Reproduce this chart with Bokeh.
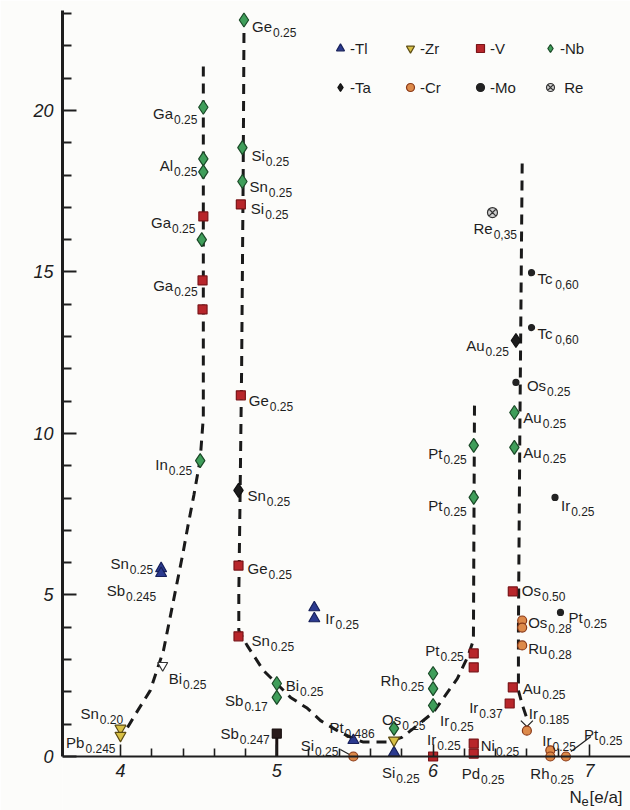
import math
from bokeh.plotting import figure
from bokeh.models import ColumnDataSource, FixedTicker, Legend, LegendItem, Label, Range1d
from bokeh.core.properties import value
from bokeh.embed import file_html
from bokeh.resources import INLINE

# ---------------------------------------------------------------------------
# Axis ticks
x_ticks = [4, 5, 6, 7]
x_minor = [4.2, 4.4, 4.6, 4.8, 5.2, 5.4, 5.6, 5.8, 6.2, 6.4, 6.6, 6.8]
y_ticks = [0, 5, 10, 15, 20]
y_minor = [1, 2, 3, 4, 6, 7, 8, 9, 11, 12, 13, 14, 16, 17, 18, 19, 21, 22, 23]

# Dashed guide curves Tc(Ne)
left_branch_x = [4.045, 4.11, 4.19, 4.275, 4.352, 4.40, 4.43, 4.47, 4.51, 4.53, 4.53]
left_branch_tc = [0.9, 1.42, 2.04, 3.28, 5.14, 6.3, 7.1, 8.1, 9.2, 10.5, 21.55]
mid_branch_x = [4.79, 4.785, 4.775, 4.765, 4.757, 4.757, 4.81, 4.915, 5.088, 5.196, 5.28,
                5.408, 5.49, 5.55, 5.71, 5.80, 5.875, 6.0, 6.155, 6.22, 6.258, 6.265]
mid_branch_tc = [22.4, 18.0, 12.0, 8.0, 5.0, 3.9, 3.44, 2.66, 1.83, 1.49, 1.11,
                 0.74, 0.56, 0.45, 0.45, 0.59, 0.87, 1.36, 2.41, 3.07, 3.6, 11.0]
right_branch_x = [6.57, 6.555, 6.546, 6.546, 6.572, 6.60]
right_branch_tc = [18.36, 10.0, 4.0, 2.04, 1.58, 1.18]

# A15 compounds, grouped by the transition metal (Ne in e/a, Tc in K)
tl_x = [4.26, 4.26, 5.24, 5.24, 5.49, 5.75]
tl_tc = [5.82, 5.67, 4.61, 4.27, 0.50, 0.12]
tl_el = ["Sn", "Sb", "Ir", "", "Pt", "Si"]
tl_sub = ["0.25", "0.245", "0.25", "", "0.486", "0.25"]

zr_x = [4.00, 4.00, 5.75]
zr_tc = [0.87, 0.65, 0.50]
zr_el = ["Sn", "Pb", ""]
zr_sub = ["0.20", "0.245", ""]

v_x = [4.77, 4.53, 4.525, 4.525, 4.77, 4.755, 4.755, 6.00, 6.26, 6.26, 6.26, 6.26, 6.51, 6.51, 6.49]
v_tc = [17.09, 16.72, 14.74, 13.84, 11.18, 5.91, 3.72, 0.0, 3.19, 2.76, 0.40, 0.09, 5.11, 2.14, 1.64]
v_el = ["Si", "Ga", "Ga", "", "Ge", "Ge", "Sn", "Ir", "Pt", "", "Ni", "Pd", "Os", "Au", "Ir"]
v_sub = ["0.25", "0.25", "0.25", "", "0.25", "0.25", "0.25", "0.25", "0.25", "", "0.25", "0.25",
         "0.50", "0.25", "0.37"]

nb_x = [4.79, 4.78, 4.78, 4.53, 4.53, 4.53, 4.52, 4.51, 5.00, 5.00, 5.75, 6.00, 6.00, 6.00,
        6.26, 6.26, 6.52, 6.52]
nb_tc = [22.8, 18.85, 17.8, 20.1, 18.5, 18.1, 16.0, 9.16, 2.26, 1.83, 0.87, 2.57, 2.1, 1.58,
         9.63, 8.02, 10.65, 9.57]
nb_el = ["Ge", "Si", "Sn", "Ga", "Al", "", "", "In", "Bi", "Sb", "Os", "Rh", "", "Ir",
         "Pt", "Pt", "Au", "Au"]
nb_sub = ["0.25", "0.25", "0.25", "0.25", "0.25", "", "", "0.25", "0.25", "0.17", "0.25", "0.25",
          "", "0.25", "0.25", "0.25", "0.25", "0.25"]

ta_x = [4.755, 6.53]
ta_tc = [8.24, 12.88]
ta_el = ["Sn", "Au"]
ta_sub = ["0.25", "0.25"]

cr_x = [5.49, 6.57, 6.57, 6.57, 6.60, 6.75, 6.75, 6.85]
cr_tc = [0.0, 4.21, 3.99, 3.44, 0.80, 0.19, 0.0, 0.0]
cr_el = ["Si", "Os", "", "Ru", "Ir", "Ir", "Rh", "Pt"]
cr_sub = ["0.25", "0.28", "", "0.28", "0.185", "0.25", "0.25", "0.25"]

mo_x = [6.63, 6.63, 6.53, 6.78, 6.815]
mo_tc = [14.98, 13.28, 11.58, 8.02, 4.46]
mo_el = ["Tc", "Tc", "Os", "Ir", "Pt"]
mo_sub = ["0,60", "0,60", "0.25", "0.25", "0.25"]

re_x = [6.38]
re_tc = [16.84]
re_el = ["Re"]
re_sub = ["0,35"]

# hollow symbol and the Ta point drawn as a bar
open_x = [4.27]
open_tc = [2.82]
open_el = ["Bi"]
open_sub = ["0.25"]

bar_x = [5.00]
bar_tc = [0.71]
bar_el = ["Sb"]
bar_sub = ["0.247"]

# Label placement per point: side ("r": text starts at dx, "l": text ends at dx), dx, dy in px
tl_place = [("l", -8, -5), ("l", -5, 17), ("r", 11, 11), None, ("r", -24, -13), ("r", -12, 20)]
zr_place = [("r", -40, -15), ("l", -5, 7), None]
v_place = [("r", 10, 4), ("l", -8, 6), ("l", -5, 5), None, ("r", 8, 5), ("r", 9, 3), ("r", 13, 4),
           ("r", -6, -17), ("l", -10, -3), None, ("r", 7, 2), ("r", -12, 20), ("r", 9, -1),
           ("r", 10, 1), ("l", -7, 4)]
nb_place = [("r", 8, 6), ("r", 9, 8), ("r", 7, 5), ("l", -6, 6), ("l", -6, 7), None, None,
            ("l", -8, 4), ("r", 9, 2), ("l", -9, 3), ("r", -12, -9), ("l", -9, 7), None,
            ("r", 7, 15), ("l", -7, 8), ("l", -7, 8), ("r", 9, 5), ("r", 9, 5)]
ta_place = [("r", 9, 5), ("l", -7, 5)]
cr_place = [("l", -15, -11), ("r", 6, 2), None, ("r", 6, 3), ("r", 2, -17), ("r", -8, -10),
            ("r", -20, 17), ("r", 18, -22)]
mo_place = [("r", 6, 6), ("r", 6, 6), ("r", 11, 3), ("r", 6, 8), ("r", 8, 5)]
re_place = [("r", -19, 16)]
open_place = [("r", 6, 13)]
bar_place = [("l", -7, 0)]

# leader lines: (x, tc, dx0, dy0, dx1, dy1) in px relative to the point
leaders = [(5.49, 0.0, -13, -7, -4, -2), (6.85, 0.0, 5, -5, 25, -20),
           (6.60, 0.80, -6, -10, 0, -4), (6.60, 0.80, 6, -10, 0, -4)]

# ---------------------------------------------------------------------------
FONT = "Liberation Sans"
INK = "#1e1e1e"
BG = "#fcfcfa"
MAIN_PX, SUB_PX, SUB_DROP = 15, 12, 6

X0, X1 = 3.629, 7.263
Y0, Y1 = -1.672, 23.25
FL, FR, FT, FB = 62, 630, 5, 810
KX = (FR - FL) / (X1 - X0)
KY = (FB - FT) / (Y1 - Y0)


def sx(px):
    return X0 + (px - FL) / KX


def sy(py):
    return Y1 - (py - FT) / KY


ADV = {'A': 667, 'B': 667, 'C': 722, 'G': 778, 'I': 278, 'N': 722, 'O': 778, 'P': 667,
       'R': 722, 'S': 667, 'T': 611, 'a': 556, 'b': 556, 'c': 500, 'd': 556, 'e': 556,
       'h': 556, 'i': 222, 'l': 222, 'n': 556, 'r': 333, 's': 500, 't': 278, 'u': 556,
       '.': 278, ',': 278, '-': 333}


def tw(s, px):
    return sum(ADV.get(ch, 556) for ch in s) * px / 1000.0


STYLE = {
    "Tl": dict(marker="triangle", size=11, fill_color="#2b3a8f", line_color="#17205a"),
    "Zr": dict(marker="inverted_triangle", size=11, fill_color="#d8c045", line_color="#5c4c12"),
    "V": dict(marker="square", size=9, fill_color="#b8262b", line_color="#7a1418"),
    "Nb": dict(marker="diamond", size=14, fill_color="#3f9e5a", line_color="#1b4a28"),
    "Ta": dict(marker="diamond", size=14, fill_color="#1c1c1c", line_color="#111111"),
    "Cr": dict(marker="circle", size=9, fill_color="#dd8a4a", line_color="#8a3a18"),
    "Mo": dict(marker="circle", size=6, fill_color="#222222", line_color="#222222"),
    "Re": dict(marker="circle_x", size=10, fill_color="#d0d0d0", line_color="#333333"),
    "open": dict(marker="inverted_triangle", size=10, fill_color="white", line_color="#333333"),
    "bar": dict(marker="square", size=9, fill_color="#2a1c1c", line_color="#1a1010"),
}

SERIES = [
    ("Tl", tl_x, tl_tc, tl_el, tl_sub, tl_place),
    ("Zr", zr_x, zr_tc, zr_el, zr_sub, zr_place),
    ("V", v_x, v_tc, v_el, v_sub, v_place),
    ("Nb", nb_x, nb_tc, nb_el, nb_sub, nb_place),
    ("Ta", ta_x, ta_tc, ta_el, ta_sub, ta_place),
    ("Cr", cr_x, cr_tc, cr_el, cr_sub, cr_place),
    ("Mo", mo_x, mo_tc, mo_el, mo_sub, mo_place),
    ("Re", re_x, re_tc, re_el, re_sub, re_place),
    ("open", open_x, open_tc, open_el, open_sub, open_place),
    ("bar", bar_x, bar_tc, bar_el, bar_sub, bar_place),
]

p = figure(width=630, height=810, output_backend="svg", toolbar_location=None,
           x_range=Range1d(X0, X1), y_range=Range1d(Y0, Y1),
           min_border_left=FL, min_border_right=0, min_border_top=FT, min_border_bottom=0,
           background_fill_color=BG, border_fill_color=BG, outline_line_color=None)
p.grid.visible = False

# axes
xa = p.xaxis[0]
xa.fixed_location = 0
xa.ticker = FixedTicker(ticks=x_ticks, minor_ticks=x_minor)
xa.axis_line_width = 2
xa.axis_line_color = INK
xa.major_tick_in, xa.major_tick_out = 12, 0
xa.minor_tick_in, xa.minor_tick_out = 8, 0
xa.major_tick_line_width = 1.6
xa.minor_tick_line_width = 1.6
xa.major_tick_line_color = INK
xa.minor_tick_line_color = INK
xa.major_label_text_font = FONT
xa.major_label_text_font_style = "italic"
xa.major_label_text_font_size = "18px"
xa.major_label_text_color = INK
xa.major_label_standoff = 8

ya = p.yaxis[0]
ya.bounds = (0, 23.1)
ya.ticker = FixedTicker(ticks=y_ticks, minor_ticks=y_minor)
ya.axis_line_width = 3
ya.axis_line_color = INK
ya.major_tick_in, ya.major_tick_out = 14, 0
ya.minor_tick_in, ya.minor_tick_out = 9, 0
ya.major_tick_line_width = 2
ya.minor_tick_line_width = 2
ya.major_tick_line_color = INK
ya.minor_tick_line_color = INK
ya.major_label_text_font = FONT
ya.major_label_text_font_style = "italic"
ya.major_label_text_font_size = "18px"
ya.major_label_text_color = INK
ya.major_label_standoff = 9

# dashed guide curves
for bx, by in [(left_branch_x, left_branch_tc), (mid_branch_x, mid_branch_tc),
               (right_branch_x, right_branch_tc)]:
    p.line(bx, by, line_color="#1a1a1a", line_width=3, line_dash="10 7")

# bar under the Sb0.247 point
p.segment(x0=bar_x, y0=bar_tc, x1=bar_x, y1=[0] * len(bar_x), line_color="#1a1010", line_width=3)

# leader lines
p.segment(x0=[l[0] + l[2] / KX for l in leaders], y0=[l[1] - l[3] / KY for l in leaders],
          x1=[l[0] + l[4] / KX for l in leaders], y1=[l[1] - l[5] / KY for l in leaders],
          line_color=INK, line_width=1.2)

renderers = {}
main_lbl = dict(x=[], y=[], text=[], xo=[], yo=[])
sub_lbl = dict(x=[], y=[], text=[], xo=[], yo=[])
for key, xs, ys, els, subs, places in SERIES:
    src = ColumnDataSource(dict(x=xs, y=ys))
    renderers[key] = p.scatter("x", "y", source=src, line_width=1.2, **STYLE[key])
    for x, y, el, sb, pl in zip(xs, ys, els, subs, places):
        if not el or pl is None:
            continue
        side, dx, dy = pl
        wm, ws = tw(el, MAIN_PX), tw(sb, SUB_PX)
        mx = dx if side == "r" else dx - ws - wm - 1
        main_lbl["x"].append(x); main_lbl["y"].append(y); main_lbl["text"].append(el)
        main_lbl["xo"].append(mx); main_lbl["yo"].append(dy)
        sub_lbl["x"].append(x); sub_lbl["y"].append(y); sub_lbl["text"].append(sb)
        sub_lbl["xo"].append(mx + wm + 1); sub_lbl["yo"].append(dy + SUB_DROP)

p.text(x="x", y="y", text="text", x_offset="xo", y_offset="yo", source=ColumnDataSource(main_lbl),
       text_font=value(FONT), text_font_size=value(f"{MAIN_PX}px"), text_color=INK,
       text_align="left", text_baseline="alphabetic")
p.text(x="x", y="y", text="text", x_offset="xo", y_offset="yo", source=ColumnDataSource(sub_lbl),
       text_font=value(FONT), text_font_size=value(f"{SUB_PX}px"), text_color=INK,
       text_align="left", text_baseline="alphabetic")

# legend: two rows of four
legend_rows = [
    [("-Tl", "Tl"), ("-Zr", "Zr"), ("-V", "V"), ("-Nb", "Nb")],
    [("-Ta", "Ta"), ("-Cr", "Cr"), ("-Mo", "Mo"), (" Re", "Re")],
]
for row, loc in zip(legend_rows, [(268, 752), (268, 713)]):
    leg = Legend(items=[LegendItem(label=t, renderers=[renderers[k]]) for t, k in row],
                 location=loc, orientation="horizontal", glyph_width=20, glyph_height=20,
                 label_standoff=0, label_width=45, spacing=5, padding=0, margin=0,
                 border_line_color=None, background_fill_alpha=0,
                 label_text_font=FONT, label_text_font_size="15px", label_text_color=INK)
    p.add_layout(leg)

# axis titles
for txt, px_, py_, size in [("T", 33, 407, 19), ("c", 37, 395, 14), ("[K]", 33, 380, 18)]:
    p.add_layout(Label(x=sx(px_), y=sy(py_), text=txt, angle=math.pi / 2, text_font=FONT,
                       text_font_size=f"{size}px", text_color=INK,
                       text_align="left", text_baseline="alphabetic"))
for txt, px_, py_, size in [("N", 569, 797, 17), ("e", 581, 801, 13), ("[e/a]", 589, 797, 17)]:
    p.add_layout(Label(x=sx(px_), y=sy(py_), text=txt, text_font=FONT,
                       text_font_size=f"{size}px", text_color=INK,
                       text_align="left", text_baseline="alphabetic"))

open("out.html", "w").write(file_html(p, INLINE))
